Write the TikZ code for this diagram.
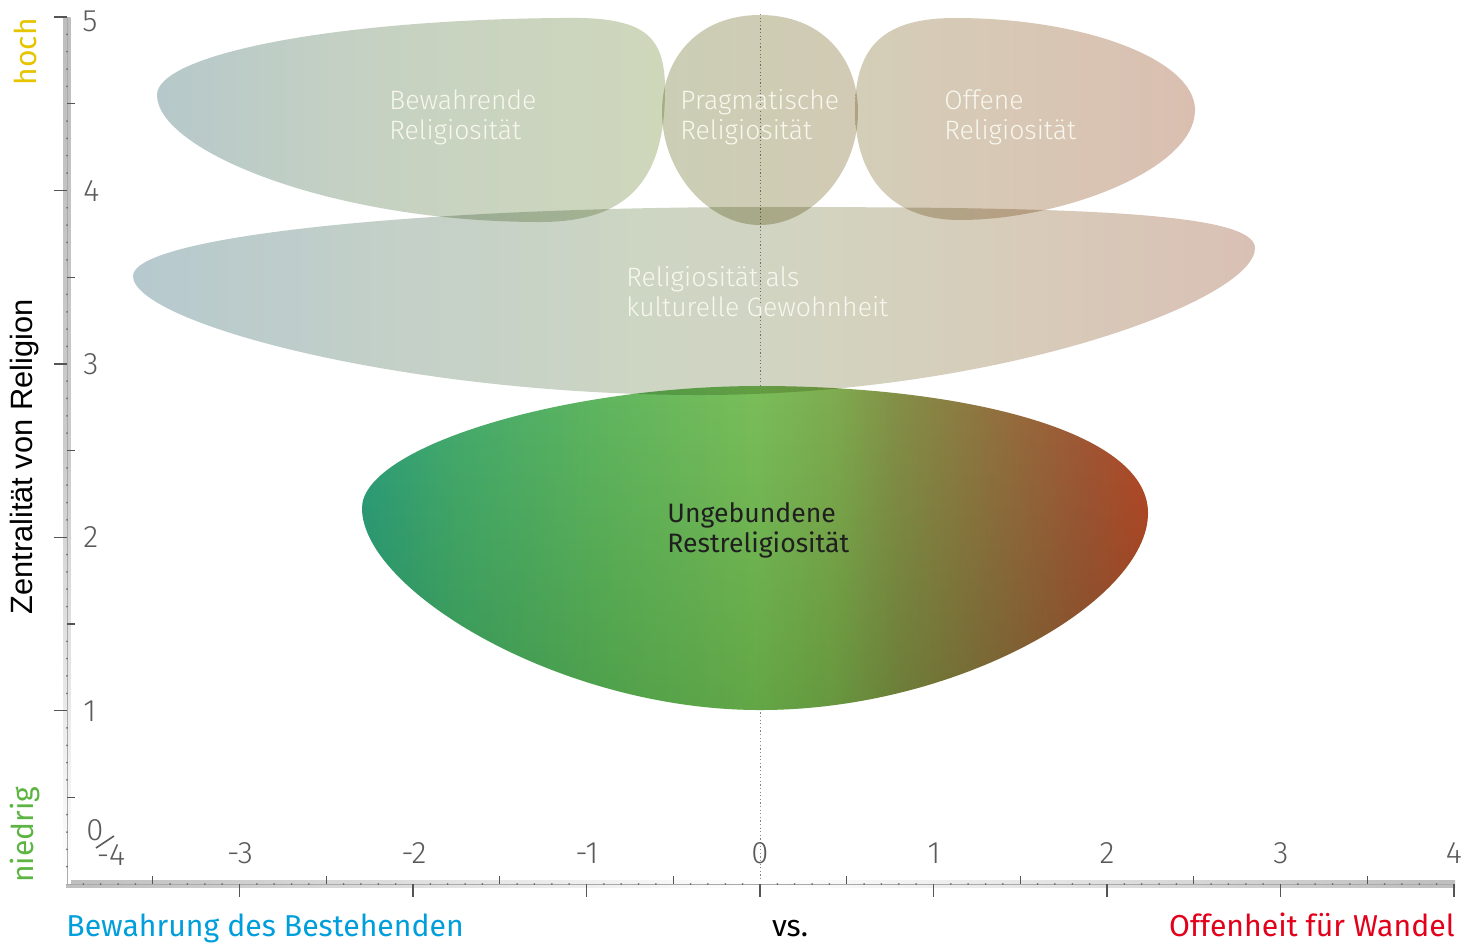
\documentclass[tikz,border=0pt]{standalone}
\usepackage{fontspec}
\setmainfont{Fira Sans}
\newfontfamily\thinfont{Fira Sans Light}
\newfontfamily\arialfont{Liberation Sans}

% axis and label colours
\definecolor{axisgray}{HTML}{BEBEBE}
\definecolor{tickgray}{HTML}{555555}
\definecolor{numgray}{HTML}{5A5A5A}
\definecolor{labelwhite}{HTML}{F7F7EE}
\definecolor{hochyellow}{HTML}{E6C400}
\definecolor{niedriggreen}{HTML}{5CB442}
\definecolor{bewahrblue}{HTML}{009FDC}
\definecolor{offenred}{HTML}{E2001A}

% region colours
\definecolor{bwA}{HTML}{B6C8CA}
\definecolor{bwB}{HTML}{C5D1C2}
\definecolor{bwC}{HTML}{CFD7BB}
\definecolor{prA}{HTML}{CBCEB5}
\definecolor{prB}{HTML}{D2CAB4}
\definecolor{ofA}{HTML}{D3CEB8}
\definecolor{ofB}{HTML}{D8C7B5}
\definecolor{ofC}{HTML}{DABFB1}
\definecolor{gwA}{HTML}{B6C9CE}
\definecolor{gwB}{HTML}{C2CFC9}
\definecolor{gwC}{HTML}{CDD5C3}
\definecolor{gwD}{HTML}{D2D4C1}
\definecolor{gwE}{HTML}{D8CBB9}
\definecolor{gwF}{HTML}{D9C0B5}
\definecolor{grA}{HTML}{2FA07E}
\definecolor{grB}{HTML}{46AC6E}
\definecolor{grC}{HTML}{60B660}
\definecolor{grD}{HTML}{7ABE5A}
\definecolor{grE}{HTML}{7FAC50}
\definecolor{grF}{HTML}{859048}
\definecolor{grG}{HTML}{937341}
\definecolor{grH}{HTML}{A45836}
\definecolor{grI}{HTML}{B84A28}
\definecolor{grBottom}{HTML}{CFE0C8}

% left-to-right colour runs (path spans 25bp..75bp)
\pgfdeclarehorizontalshading{bwshade}{100bp}{color(0bp)=(bwA); color(25bp)=(bwA); color(45bp)=(bwB); color(75bp)=(bwC); color(100bp)=(bwC)}
\pgfdeclarehorizontalshading{prshade}{100bp}{color(0bp)=(prA); color(25bp)=(prA); color(75bp)=(prB); color(100bp)=(prB)}
\pgfdeclarehorizontalshading{ofshade}{100bp}{color(0bp)=(ofA); color(25bp)=(ofA); color(50bp)=(ofB); color(75bp)=(ofC); color(100bp)=(ofC)}
\pgfdeclarehorizontalshading{gwshade}{100bp}{color(0bp)=(gwA); color(25bp)=(gwA); color(35bp)=(gwB); color(47.5bp)=(gwC); color(55bp)=(gwD); color(65bp)=(gwE); color(75bp)=(gwF); color(100bp)=(gwF)}
\pgfdeclarehorizontalshading{grshade}{100bp}{color(0bp)=(grA); color(25bp)=(grA); color(31bp)=(grB); color(40bp)=(grC); color(50bp)=(grD); color(55bp)=(grE); color(59bp)=(grF); color(65bp)=(grG); color(71bp)=(grH); color(75bp)=(grI); color(100bp)=(grI)}

\begin{document}
\begin{tikzpicture}[x=0.5pt,y=-0.5pt,
  blobtext/.style={font=\thinfont\fontsize{13.3}{15}\selectfont, text=labelwhite, align=left, anchor=west, inner sep=0pt},
  ticknum/.style={font=\thinfont\fontsize{15.5}{18}\selectfont, text=numgray, inner sep=0pt},
  sidelabel/.style={font=\fontsize{15}{18}\selectfont, rotate=90, inner sep=0pt},
  axislabel/.style={font=\fontsize{15.1}{18}\selectfont, inner sep=0pt},
  majortick/.style={draw=tickgray, line width=0.7pt},
  halftick/.style={draw=tickgray, line width=0.6pt},
  minordot/.style={fill=tickgray!85},
]
\useasboundingbox[fill=white] (0,0) rectangle (1470,944);

% centre line at x = 0
\draw[tickgray!70, line width=0.5pt, dash pattern=on 0.6pt off 1.2pt] (760,14) -- (760,893);

% lower region
\shade[shading=grshade]
  (362,508) .. controls (362,448) and (560,386) .. (760,386)
  .. controls (960,386) and (1148,430) .. (1148,513)
  .. controls (1148,600) and (960,710) .. (760,710)
  .. controls (560,710) and (362,590) .. (362,508) -- cycle;
\begin{scope}[blend mode=multiply]
\shade[top color=white, bottom color=grBottom]
  (362,508) .. controls (362,448) and (560,386) .. (760,386)
  .. controls (960,386) and (1148,430) .. (1148,513)
  .. controls (1148,600) and (960,710) .. (760,710)
  .. controls (560,710) and (362,590) .. (362,508) -- cycle;
\end{scope}

% upper regions, overlapping areas darken
\begin{scope}[blend mode=multiply]
\shade[shading=bwshade]
  (157,95) .. controls (157,55) and (330,20) .. (560,18)
  .. controls (645,16) and (665,35) .. (665,90)
  .. controls (665,178) and (630,222) .. (540,222)
  .. controls (330,222) and (157,150) .. (157,95) -- cycle;
\shade[shading=prshade]
  (760,15) .. controls (822,15) and (858,58) .. (858,112)
  .. controls (858,172) and (812,225) .. (760,225)
  .. controls (708,225) and (662,172) .. (662,112)
  .. controls (662,58) and (698,15) .. (760,15) -- cycle;
\shade[shading=ofshade]
  (855,110) .. controls (855,45) and (885,18) .. (955,18)
  .. controls (1085,18) and (1195,60) .. (1195,110)
  .. controls (1195,170) and (1060,220) .. (960,220)
  .. controls (885,220) and (855,170) .. (855,110) -- cycle;
\shade[shading=gwshade]
  (133,276) .. controls (133,238) and (400,208) .. (750,207)
  .. controls (1050,207) and (1255,210) .. (1255,248)
  .. controls (1255,300) and (1000,395) .. (700,395)
  .. controls (400,395) and (133,322) .. (133,276) -- cycle;
\end{scope}

% axis bands
\shade[left color=axisgray, right color=axisgray, middle color=white] (66,880.5) rectangle (1455,887.5);
\shade[top color=axisgray, bottom color=white, middle color=axisgray!80] (63.5,17) rectangle (70.5,884);
\draw[tickgray!50, line width=0.3pt] (66,884) -- (1455,884);
\draw[tickgray!50, line width=0.3pt] (67,17) -- (67,884);

% horizontal axis ticks
\foreach \i in {-3,...,4}
  \draw[majortick] ({760+173.5*\i},884) -- ++(0,13);
\foreach \i in {-7,-5,...,7}
  \draw[halftick] ({760+86.75*\i},876) -- ++(0,8);
\foreach \u in {-4,...,3}
  \foreach \k in {1,2,3,4,6,7,8,9}
    \fill[minordot] ({760+173.5*(\u+\k/10)},884) circle (1);

% vertical axis ticks
\foreach \j in {1,...,5}
  \draw[majortick] (54,{884-173.4*\j}) -- ++(13,0);
\foreach \j in {0,...,4}
  \draw[halftick] (67,{884-173.4*(\j+0.5)}) -- ++(8,0);
\foreach \u in {0,...,4}
  \foreach \k in {1,2,3,4,6,7,8,9}
    \fill[minordot] (67,{884-173.4*(\u+\k/10)}) circle (1);

% tick numbers
\node[ticknum, anchor=west] (y5) at (82,21) {5};
\node[ticknum, anchor=west] (y4) at (83,191) {4};
\node[ticknum, anchor=west] (y3) at (83,364) {3};
\node[ticknum, anchor=west] (y2) at (83,537) {2};
\node[ticknum, anchor=west] (y1) at (83,711) {1};
\node[ticknum] (x0y) at (95,830) {0};
\node[ticknum] (xm4) at (111,855) {-4};
\draw[numgray, line width=0.8pt] (96,848) -- (114,836);
\node[ticknum] (xm3) at (240,853) {-3};
\node[ticknum] (xm2) at (414,853) {-2};
\node[ticknum] (xm1) at (587,853) {-1};
\node[ticknum] (x0) at (760,853) {0};
\node[ticknum] (x1) at (934,853) {1};
\node[ticknum] (x2) at (1107,853) {2};
\node[ticknum] (x3) at (1281,853) {3};
\node[ticknum] (x4) at (1454,853) {4};

% axis titles
\node[sidelabel, text=hochyellow, anchor=east] (hoch) at (25,18) {hoch};
\node[sidelabel, text=niedriggreen, anchor=west] (niedrig) at (25,883) {niedrig};
\node[font=\arialfont\fontsize{15.4}{18}\selectfont, rotate=90, inner sep=0pt] (zentral) at (25,457) {Zentralität von Religion};
\node[axislabel, text=bewahrblue, anchor=base west] (bewahrung) at (66,936) {Bewahrung des Bestehenden};
\node[axislabel, text=black, anchor=base] (vs) at (790,936) {vs.};
\node[axislabel, text=offenred, anchor=base east] (offenheit) at (1455,936) {Offenheit für Wandel};

% region labels
\node[blobtext] (bewlab) at (389,117) {Bewahrende\\Religiosität};
\node[blobtext] (pralab) at (680,117) {Pragmatische\\Religiosität};
\node[blobtext] (offlab) at (944,117) {Offene\\Religiosität};
\node[blobtext] (gewlab) at (626,292) {Religiosität als\\kulturelle Gewohnheit};
\node[blobtext, font=\fontsize{13.3}{15}\selectfont, text=black!88] (unglab) at (667,530) {Ungebundene\\Restreligiosität};
\end{tikzpicture}
\end{document}
